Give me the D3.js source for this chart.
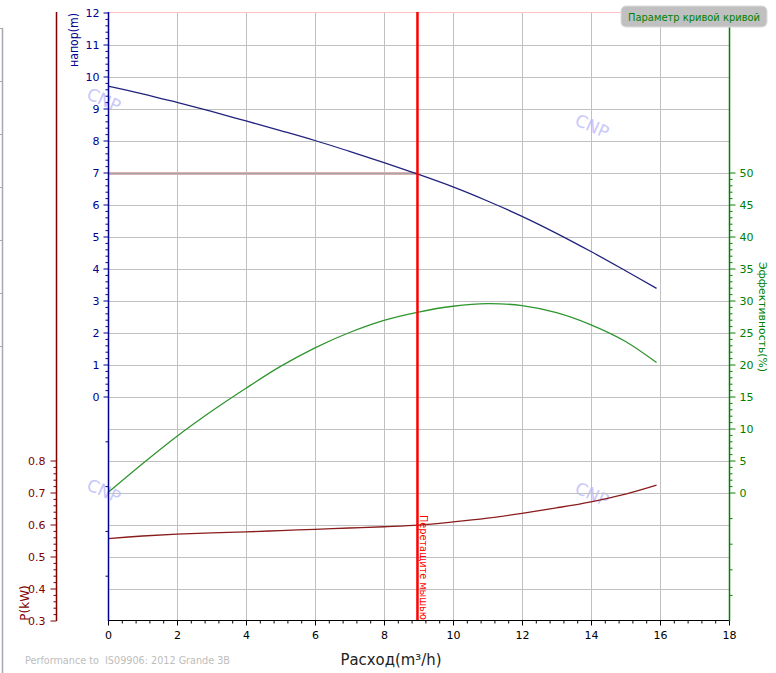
<!DOCTYPE html>
<html><head><meta charset="utf-8">
<script src="https://cdn.jsdelivr.net/npm/d3@7"></script>
<style>body{margin:0;background:#fff}svg{display:block}text{font-family:"DejaVu Sans",sans-serif}</style>
</head><body><svg id="c" width="776" height="673"></svg>
<script>
// ---- data ----
const flow = [0,1,2,3,4,5,6,7,8,9,10,11,12,13,14,15,15.9];
const head = [9.70,9.46,9.19,8.91,8.61,8.31,8.00,7.66,7.31,6.94,6.55,6.11,5.63,5.10,4.53,3.93,3.38];
const efficiency = [0,4.5,8.8,12.7,16.3,19.7,22.6,25.0,26.9,28.2,29.1,29.5,29.2,28.1,26.2,23.6,20.3];
const power = [0.556,0.564,0.570,0.574,0.577,0.581,0.585,0.589,0.593,0.598,0.608,0.620,0.635,0.652,0.671,0.695,0.723];
const xTicks = [0,2,4,6,8,10,12,14,16,18];
const headTicks = [0,1,2,3,4,5,6,7,8,9,10,11,12];
const headExtraTicks = [-1.4,-2.8,-4.2,-5.6];
const powerTicks = [0.3,0.4,0.5,0.6,0.7,0.8];
const effTicks = [0,5,10,15,20,25,30,35,40,45,50];
const effExtraTicks = [-4,-8,-12,-16];
const gridHead = [-6,-5,-4,-3,-2,-1,0,1,2,3,4,5,6,7,8,9,10,11];
const cursorFlow = 8.97;
const dutyHead = 7;
const legendLabel = "Параметр кривой кривой";
const cursorLabel = "Перетащите мышью";
const watermarks = [[-0.12,9.27],[14.03,8.45],[-0.12,-2.95],[14.03,-3.05]];

// ---- scales ----
const svg = d3.select("#c");
const x = d3.scaleLinear().domain([0,18]).range([108,729]);
const yH = d3.scaleLinear().domain([-7,12]).range([620.5,12.5]);
const yP = d3.scaleLinear().domain([0.3,2.2]).range([620.5,12.5]);
const yE = d3.scaleLinear().domain([-20,75]).range([620.5,12.5]);
const GRID = "#c0c0c0";

// watermarks
svg.append("g").selectAll("text").data(watermarks).join("text")
  .attr("transform",d=>`translate(${x(d[0])},${yH(d[1])}) rotate(24)`)
  .attr("text-anchor","middle").attr("dominant-baseline","central")
  .attr("font-size",17).attr("fill","#c8c8fa").text("CNP");

// grid
const g = svg.append("g");
g.selectAll(".vg").data(xTicks.filter(v=>v>0&&v<18)).join("line")
  .attr("x1",d=>x(d)+0.5).attr("x2",d=>x(d)+0.5).attr("y1",12.5).attr("y2",620.5)
  .attr("stroke",GRID);
g.selectAll(".hg").data(gridHead).join("line")
  .attr("x1",108).attr("x2",729).attr("y1",d=>Math.round(yH(d))+0.5).attr("y2",d=>Math.round(yH(d))+0.5)
  .attr("stroke",GRID);
g.append("line").attr("x1",108).attr("x2",729).attr("y1",yH(12)).attr("y2",yH(12)).attr("stroke","#ffc0c0");

// duty line at head 7
const yd = Math.round(yH(dutyHead))+0.5;
g.append("line").attr("x1",x(0)).attr("x2",x(cursorFlow)).attr("y1",yd).attr("y2",yd)
  .attr("stroke","#e4b8b8").attr("stroke-width",3);
g.append("line").attr("x1",x(0)).attr("x2",x(cursorFlow)).attr("y1",yd).attr("y2",yd)
  .attr("stroke","#a8a4a4").attr("stroke-width",1.6);

// curves
const mk = (ys, sc) => d3.line().x((d,i)=>x(flow[i])).y(d=>sc(d)).curve(d3.curveCatmullRom.alpha(0.5))(ys);
svg.append("path").attr("d",mk(head,yH)).attr("fill","none").attr("stroke","#22227e").attr("stroke-width",1.3);
svg.append("path").attr("d",mk(efficiency,yE)).attr("fill","none").attr("stroke","#2f952f").attr("stroke-width",1.3);
svg.append("path").attr("d",mk(power,yP)).attr("fill","none").attr("stroke","#8a1c1c").attr("stroke-width",1.3);

// cursor line
svg.append("line").attr("x1",x(cursorFlow)).attr("x2",x(cursorFlow)).attr("y1",12).attr("y2",621)
  .attr("stroke","#ff0000").attr("stroke-width",2.5);
svg.append("text").attr("transform",`translate(${x(cursorFlow)+3},515) rotate(90)`)
  .attr("font-size",10).attr("textLength",105).attr("lengthAdjust","spacingAndGlyphs")
  .attr("fill","#ff0000").text(cursorLabel);

function styleAxis(sel,color){
  sel.select(".domain").remove();
  sel.selectAll("line").attr("stroke",color);
  sel.selectAll("text").attr("fill",color).attr("font-size",11).attr("font-family","DejaVu Sans");
}
// x axis
const minorX = d3.range(0,18.001,0.4).filter(v=>Math.abs(v/2-Math.round(v/2))>1e-6);
const gx = svg.append("g").attr("transform","translate(0,620.5)");
gx.append("g").call(d3.axisBottom(x).tickValues(minorX).tickSize(3).tickFormat("")).call(s=>styleAxis(s,"#000"));
gx.append("g").call(d3.axisBottom(x).tickValues(xTicks).tickSize(5).tickPadding(6).tickFormat(d3.format("d"))).call(s=>styleAxis(s,"#000"));
gx.append("line").attr("x1",108).attr("x2",729).attr("stroke","#000");

// head axis
const minorH = d3.range(0,12.001,0.2).filter(v=>Math.abs(v-Math.round(v))>1e-6).concat(headExtraTicks);
const gh = svg.append("g").attr("transform","translate(108.5,0)");
gh.append("g").call(d3.axisLeft(yH).tickValues(minorH).tickSize(3).tickFormat("")).call(s=>styleAxis(s,"#000090"));
gh.append("g").call(d3.axisLeft(yH).tickValues(headTicks).tickSize(5).tickPadding(4).tickFormat(d3.format("d"))).call(s=>styleAxis(s,"#000090"));
gh.append("line").attr("y1",12).attr("y2",621).attr("stroke","#000090").attr("stroke-width",1.5);
svg.append("text").attr("transform",`translate(78,40) rotate(-90)`).attr("text-anchor","middle")
  .attr("font-size",12).attr("textLength",54).attr("lengthAdjust","spacingAndGlyphs")
  .attr("fill","#000090").text("напор(m)");

// power axis
const minorP = d3.range(0.3,0.8001,0.02).filter(v=>Math.abs(v*10-Math.round(v*10))>1e-6);
const gp = svg.append("g").attr("transform","translate(56.5,0)");
gp.append("g").call(d3.axisLeft(yP).tickValues(minorP).tickSize(3).tickFormat("")).call(s=>styleAxis(s,"#800000"));
gp.append("g").call(d3.axisLeft(yP).tickValues(powerTicks).tickSize(6).tickPadding(5).tickFormat(d3.format(".1f"))).call(s=>styleAxis(s,"#800000"));
gp.append("line").attr("y1",12).attr("y2",621).attr("stroke","#800000").attr("stroke-width",1.5);
svg.append("text").attr("transform",`translate(29,603) rotate(-90)`).attr("text-anchor","middle")
  .attr("font-size",12).attr("fill","#800000").text("P(kW)");

// efficiency axis
const minorE = d3.range(0,50.001,1).filter(v=>v%5!==0).concat(effExtraTicks);
const ge = svg.append("g").attr("transform","translate(729.5,0)");
ge.append("g").call(d3.axisRight(yE).tickValues(minorE).tickSize(3).tickFormat("")).call(s=>styleAxis(s,"#008000"));
ge.append("g").call(d3.axisRight(yE).tickValues(effTicks).tickSize(6).tickPadding(4).tickFormat(d3.format("d"))).call(s=>styleAxis(s,"#008000"));
ge.append("line").attr("y1",12).attr("y2",621).attr("stroke","#008000").attr("stroke-width",1.5);
svg.append("text").attr("transform",`translate(759,317) rotate(90)`).attr("text-anchor","middle")
  .attr("font-size",11).attr("textLength",110).attr("lengthAdjust","spacingAndGlyphs")
  .attr("fill","#008000").text("Эффективность(%)");

// left stray axis
const yS = d3.scaleLinear().domain([0,1]).range([28,81]);
const gs = svg.append("g").attr("transform","translate(2.5,0)");
gs.append("g").call(d3.axisLeft(yS).tickValues([0,1,2,3,4,5,6]).tickSize(3).tickFormat("")).call(s=>styleAxis(s,"#a8a8b0"));
gs.append("line").attr("y1",28).attr("y2",673).attr("stroke","#a8a8b0").attr("stroke-width",1.5);

// titles
svg.append("text").attr("x",391).attr("y",665).attr("text-anchor","middle").attr("font-size",15.5)
  .attr("textLength",101).attr("lengthAdjust","spacingAndGlyphs").attr("fill","#222")
  .text("Расход(m³/h)");
svg.append("text").attr("x",25).attr("y",664).attr("font-size",10.5).attr("fill","#bdbdbd")
  .attr("textLength",205).attr("lengthAdjust","spacingAndGlyphs").style("white-space","pre")
  .text("Performance to  IS09906: 2012 Grande 3B");

// legend
const lg = svg.append("g");
lg.append("rect").attr("x",621).attr("y",6).attr("width",146).attr("height",21).attr("rx",5)
  .attr("fill","#c0c0c0").attr("stroke","#dcdcdc");
lg.append("text").attr("x",628).attr("y",21).attr("font-size",11)
  .attr("textLength",132).attr("lengthAdjust","spacingAndGlyphs")
  .attr("fill","#008000").text(legendLabel);
</script></body></html>
